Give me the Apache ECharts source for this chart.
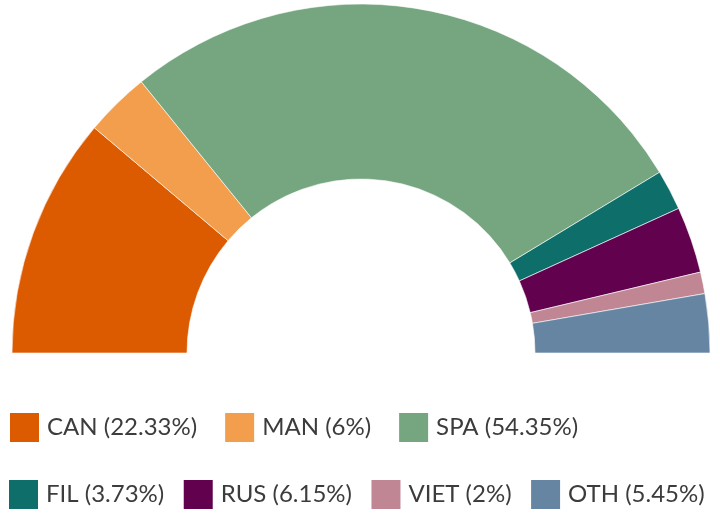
<!DOCTYPE html>
<html><head><meta charset="utf-8">
<script src="https://cdn.jsdelivr.net/npm/echarts@6/dist/echarts.min.js"></script>
<style>html,body{margin:0;padding:0;background:#fff}#c{width:720px;height:514px}</style>
</head><body><div id="c"></div>
<script>
const categories = ['CAN','MAN','SPA','FIL','RUS','VIET','OTH'];
const shares = [22.33, 6, 54.35, 3.73, 6.15, 2, 5.45];
const colors = ['#dc5a00','#f39e4c','#75a680','#0e6e6a','#62024f','#c18694','#6685a3'];
const row1 = ['CAN','MAN','SPA'];
const row2 = ['FIL','RUS','VIET','OTH'];

const chart = echarts.init(document.getElementById('c'), null, {renderer:'canvas'});
const lookup = {};
categories.forEach((c,i)=>lookup[c]=shares[i]);
const legendBase = {
  orient:'horizontal', left: 8, width: 1000, padding: 0, itemWidth: 31, itemHeight: 31, itemGap: 18,
  icon: 'rect',
  textStyle:{fontFamily:'Lato', fontSize:24, color:'#3c3c3c', padding:[0,0,0,2]},
  formatter: n => n + ' (' + lookup[n] + '%)'
};
chart.setOption({
  animation:false,
  color: colors,
  legend:[
    Object.assign({}, legendBase, {data: row1, top: 411, itemGap: 26}),
    Object.assign({}, legendBase, {data: row2, top: 478, left: 7, itemGap: 17.5})
  ],
  series:[{
    type:'pie',
    center:[361,353],
    radius:[174,349],
    startAngle:180,
    endAngle:0,
    clockwise:true,
    label:{show:false},
    labelLine:{show:false},
    itemStyle:{borderColor:'#ffffff', borderWidth:0.6},
    emphasis:{disabled:true},
    data: categories.map((c,i)=>({name:c, value:shares[i]}))
  }]
});
</script></body></html>
